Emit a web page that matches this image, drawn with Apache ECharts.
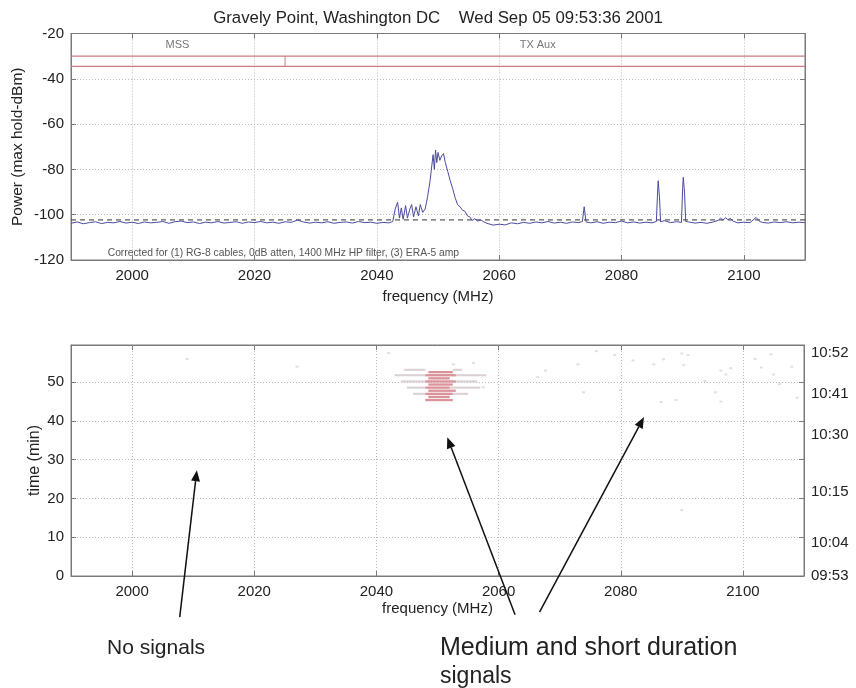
<!DOCTYPE html>
<html><head><meta charset="utf-8">
<script src="https://cdn.jsdelivr.net/npm/echarts@6/dist/echarts.min.js"></script>
<style>html,body{margin:0;padding:0;background:#fff}#c{width:856px;height:688px}</style>
</head><body><div id="c"></div>
<script>
// ---------- data ----------
const titleText = 'Gravely Point, Washington DC    Wed Sep 05 09:53:36 2001';
const specFreq = [1990,1991,1992,1993,1994,1995,1996,1997,1998,1999,2000,2001,2002,2003,2004,2005,2006,2007,2008,2009,
  2010,2011,2012,2013,2014,2015,2016,2017,2018,2019,2020,2021,2022,2023,2024,2025,2026,2027,2028,2029,
  2030,2031,2032,2033,2034,2035,2036,2037,2038,2039,2040,2041,2042,2042.6,2043.0,2043.4,2043.7,2044.0,2044.3,2044.7,
  2045.0,2045.4,2045.7,2046.0,2046.4,2046.8,2047.1,2047.5,2047.9,2048.3,2048.7,2049.0,2049.2,2049.4,2049.6,2049.8,
  2050.0,2050.3,2050.6,2050.9,2051.2,2051.6,2052.0,2052.4,2052.8,2053.2,2053.6,2054.0,2054.4,2054.8,2055.2,2055.6,
  2056.0,2056.5,2057.0,2057.5,2058,2059,2060,2061,2062,2063,2064,2065,2066,2067,2068,2069,2070,2071,2072,2073,
  2073.6,2073.9,2074.2,2075,2076,2077,2078,2079,2080,2081,2082,2083,2084,2085,2085.7,2085.9,2086.0,2086.2,2086.4,2087,
  2088,2089,2089.8,2090.0,2090.1,2090.3,2090.5,2091,2092,2093,2094,2095,2095.8,2096.2,2096.6,2097.0,2097.4,2097.8,
  2098.2,2099,2100,2101,2102,2102.5,2103,2104,2105,2106,2107,2108,2109,2110];
const specPower = [-103.8,-103.2,-104.0,-103.5,-103.1,-103.9,-103.4,-103.6,-103.0,-103.7,-103.3,-103.9,-103.2,-103.6,-103.4,-103.0,-103.8,-103.1,-102.8,-103.5,
  -103.2,-103.9,-103.3,-103.6,-103.0,-103.7,-103.4,-103.1,-103.8,-103.2,-103.5,-103.0,-103.6,-103.3,-103.8,-103.1,-103.4,-102.4,-103.2,-103.7,
  -103.3,-103.6,-103.1,-103.8,-103.4,-103.2,-103.7,-103.0,-103.5,-103.3,-103.8,-103.4,-103.6,-103.0,-97.5,-94.5,-101.5,-97.0,-102.0,-96.0,
  -101.5,-97.5,-95.5,-101.0,-96.5,-100.5,-95.5,-99.0,-97.5,-92.0,-85.0,-78.0,-73.5,-80.0,-71.5,-77.0,
  -72.5,-76.0,-74.0,-73.0,-77.0,-81.0,-85.0,-88.5,-92.5,-95.5,-96.5,-98.0,-98.5,-100.5,-101.0,-102.5,
  -101.8,-102.8,-102.3,-103.2,-103.8,-104.6,-104.2,-104.5,-103.6,-104.0,-103.4,-103.8,-103.2,-103.6,-103.0,-103.7,-103.3,-103.8,-103.2,-103.5,
  -103.0,-96.5,-103.2,-103.6,-103.1,-103.8,-103.3,-103.5,-102.8,-103.6,-103.2,-103.7,-103.3,-103.6,-103.0,-90.0,-85.0,-92.0,-103.2,-102.6,
  -103.5,-103.1,-103.4,-88.0,-83.5,-90.0,-103.0,-103.2,-103.7,-103.4,-103.8,-103.2,-102.5,-101.5,-102.4,-101.3,-102.2,-101.6,
  -102.8,-103.6,-103.3,-103.5,-101.2,-102.8,-103.4,-103.7,-103.2,-103.5,-103.1,-103.6,-103.3,-103.5];
const floorLevel = -102.3;
const redLevels = [-30, -34.5];
const redTickFreq = 2025;
const bandNames = ['MSS', 'TX Aux'];
const bandNameFreq = [2007.4, 2066.3];
const bandNameLevel = -25;
const noteText = 'Corrected for (1) RG-8 cables, 0dB atten, 1400 MHz HP filter, (3) ERA-5 amp';
const noteAt = [1996, -117];

// waterfall (lower panel): [freqStart, freqEnd, time(min)]
const redRows = [[2048.5,2052.5,52.6],[2048,2053,51.8],[2048.5,2052,51],[2048,2053,50.2],[2048.5,2052.5,49.4],
  [2048,2052,48.6],[2048.5,2053,47.8],[2048,2052.5,47],[2048.5,2052,46.2],[2048,2052.5,45.4]];
const greyRows = [[2043,2048,51.8],[2053,2058,51.8],[2044,2048,50.2],[2053,2056.5,50.2],[2045,2048,48.6],
  [2052,2057,48.6],[2046,2048,47],[2052.5,2055,47],[2044.5,2048,53.2],[2052.5,2054,53.2]];
const dots = [[2009,56],[2027,54],[2042,57.5],[2052.6,54.6],[2055.9,55],[2057.5,48.7],[2066.4,51.3],[2067.7,53],
  [2073,54.6],[2073.9,47.4],[2076,58],[2079,57],[2082,55.6],[2085.4,54.6],[2087,55.9],[2090,57.4],[2090.3,54.4],
  [2091,57],[2093.8,50.3],[2096.4,53],[2097.2,52],[2098,53.6],[2096.4,45],[2102,56],[2103,53.8],[2104.6,57.2],
  [2105,52],[2106,49.5],[2108,54],[2108.9,46],[2086.6,44.9],[2089,45.4],[2095.5,47.4],[2080,48],[2090,17]];
const clockLabels = ['09:53', '10:04', '10:15', '10:30', '10:41', '10:52'];
const clockPos = [0, 8.5, 21.8, 36.4, 47, 57.7];
const timeMax = 59.6;

// annotations: [tailFreq, tailTime, tipFreq, tipTime] in lower-panel coordinates
const arrows = [[2007.8,-10.6,2010.6,27.3],[2062.7,-10,2051.6,35.8],[2066.7,-9.3,2083.8,41]];

// ---------- chart ----------
const FONT = 'Liberation Sans, Arial, sans-serif';
const frame = '#7a7a7a';
const chart = echarts.init(document.getElementById('c'), null, {renderer: 'canvas'});

function xAx(gi, pos, labels, name, gap) {
  return {
    type: 'value', gridIndex: gi, position: pos, min: 1990, max: 2110, splitNumber: 6,
    axisLine: {show: true, onZero: false, lineStyle: {color: frame}},
    axisTick: {show: true, inside: true, length: 5, lineStyle: {color: frame}},
    axisLabel: {show: labels, showMinLabel: false, showMaxLabel: false, color: '#222', fontSize: 15, fontFamily: FONT, margin: 8,
      formatter: v => String(v)},
    splitLine: {show: pos === 'bottom', lineStyle: {color: '#b8b8b8', type: [1, 2]}},
    name: name, nameLocation: 'middle', nameGap: gap, nameMoveOverlap: false,
    nameTextStyle: {color: '#222', fontSize: 15, fontFamily: FONT}
  };
}

const option = {
  animation: false,
  backgroundColor: '#fff',
  title: {text: titleText, left: 433, top: 5, textAlign: 'center',
    textStyle: {fontSize: 16.8, fontWeight: 'normal', color: '#222', fontFamily: FONT}},
  grid: [
    {left: 71, top: 33.5, width: 734, height: 226.5, show: true, borderColor: frame, borderWidth: 1},
    {left: 71, top: 345, width: 733, height: 231, show: true, borderColor: frame, borderWidth: 1}
  ],
  xAxis: [
    xAx(0, 'bottom', true, 'frequency (MHz)', 29),
    xAx(0, 'top', false, '', 0),
    xAx(1, 'bottom', true, 'frequency (MHz)', 25),
    xAx(1, 'top', false, '', 0)
  ],
  yAxis: [
    {type: 'value', gridIndex: 0, position: 'left', min: -120, max: -20, interval: 20,
      axisLine: {show: true, lineStyle: {color: frame}},
      axisTick: {show: true, inside: true, length: 5, lineStyle: {color: frame}},
      axisLabel: {color: '#222', fontSize: 15, fontFamily: FONT, margin: 7},
      splitLine: {lineStyle: {color: '#b8b8b8', type: [1, 2]}},
      name: 'Power (max hold-dBm)', nameLocation: 'middle', nameGap: 45, nameRotate: 90, nameMoveOverlap: false,
      nameTextStyle: {color: '#222', fontSize: 15.5, fontFamily: FONT}},
    {type: 'value', gridIndex: 0, position: 'right', min: -120, max: -20, interval: 20,
      axisLine: {show: true, lineStyle: {color: frame}},
      axisTick: {show: true, inside: true, length: 5, lineStyle: {color: frame}},
      axisLabel: {show: false}, splitLine: {show: false}},
    {type: 'value', gridIndex: 1, position: 'left', min: 0, max: timeMax, interval: 10,
      axisLine: {show: true, lineStyle: {color: frame}},
      axisTick: {show: true, inside: true, length: 5, lineStyle: {color: frame}},
      axisLabel: {color: '#222', fontSize: 15, fontFamily: FONT, margin: 7, showMaxLabel: false},
      splitLine: {lineStyle: {color: '#b8b8b8', type: [1, 2]}},
      name: 'time (min)', nameLocation: 'middle', nameGap: 28, nameRotate: 90, nameMoveOverlap: false,
      nameTextStyle: {color: '#222', fontSize: 16, fontFamily: FONT}},
    {type: 'value', gridIndex: 1, position: 'right', min: 0, max: timeMax,
      axisLine: {show: true, lineStyle: {color: frame}},
      axisTick: {show: true, inside: true, length: 5, customValues: [10, 20, 30, 40, 50], lineStyle: {color: frame}},
      axisLabel: {show: true, customValues: clockPos, color: '#222', fontSize: 15, fontFamily: FONT, margin: 7,
        formatter: function (v) { const i = clockPos.indexOf(v); return i >= 0 ? clockLabels[i] : ''; }},
      splitLine: {show: false}}
  ],
  series: [
    {type: 'line', xAxisIndex: 0, yAxisIndex: 0, showSymbol: false, z: 3,
      lineStyle: {color: '#cc7a80', width: 1.2},
      data: [[1990, redLevels[0]], [2110, redLevels[0]]]},
    {type: 'line', xAxisIndex: 0, yAxisIndex: 0, showSymbol: false, z: 3,
      lineStyle: {color: '#cc7a80', width: 1.2},
      data: [[1990, redLevels[1]], [2110, redLevels[1]]]},
    {type: 'line', xAxisIndex: 0, yAxisIndex: 0, showSymbol: false, z: 3,
      lineStyle: {color: '#cc7a80', width: 1},
      data: [[redTickFreq, redLevels[0]], [redTickFreq, redLevels[1]]]},
    {type: 'line', xAxisIndex: 0, yAxisIndex: 0, showSymbol: false, z: 3,
      lineStyle: {color: '#333', width: 1, type: [5, 4]},
      data: [[1990, floorLevel], [2110, floorLevel]]},
    {type: 'line', xAxisIndex: 0, yAxisIndex: 0, showSymbol: false, z: 4,
      lineStyle: {color: '#4b4ba0', width: 1},
      data: specFreq.map((f, i) => [f, specPower[i]])},
    {type: 'custom', xAxisIndex: 2, yAxisIndex: 2, z: 3,
      encode: {x: [0, 1], y: 2},
      renderItem: function (params, api) {
        const a = api.coord([api.value(0), api.value(2)]);
        const b = api.coord([api.value(1), api.value(2)]);
        const h = api.size([0, 0.55])[1];
        return {type: 'rect', shape: {x: a[0], y: a[1] - h / 2, width: b[0] - a[0], height: h},
          style: {fill: '#dcd2d4'}};
      },
      data: greyRows},
    {type: 'custom', xAxisIndex: 2, yAxisIndex: 2, z: 4,
      encode: {x: [0, 1], y: 2},
      renderItem: function (params, api) {
        const a = api.coord([api.value(0), api.value(2)]);
        const b = api.coord([api.value(1), api.value(2)]);
        const h = api.size([0, 0.6])[1];
        return {type: 'rect', shape: {x: a[0], y: a[1] - h / 2, width: b[0] - a[0], height: h},
          style: {fill: '#da939b'}};
      },
      data: redRows},
    {type: 'scatter', xAxisIndex: 2, yAxisIndex: 2, symbol: 'rect', symbolSize: [3, 2],
      itemStyle: {color: '#d8d8d8'}, data: dots}
  ]
};
chart.setOption(option);

// annotations placed through the axes' own scales
const g = [];
bandNames.forEach((t, i) => {
  const p = chart.convertToPixel({xAxisIndex: 0, yAxisIndex: 0}, [bandNameFreq[i], bandNameLevel]);
  g.push({type: 'text', x: p[0], y: p[1], style: {text: t, fill: '#777', font: '11px ' + FONT, textAlign: 'center', textVerticalAlign: 'middle'}});
});
const np = chart.convertToPixel({xAxisIndex: 0, yAxisIndex: 0}, noteAt);
g.push({type: 'text', x: np[0], y: np[1], style: {text: noteText, fill: '#555', font: '10.3px ' + FONT, textAlign: 'left', textVerticalAlign: 'middle'}});
arrows.forEach(a => {
  const t0 = chart.convertToPixel({xAxisIndex: 2, yAxisIndex: 2}, [a[0], a[1]]);
  const t1 = chart.convertToPixel({xAxisIndex: 2, yAxisIndex: 2}, [a[2], a[3]]);
  const ang = Math.atan2(t1[1] - t0[1], t1[0] - t0[0]);
  const L = 11, W = 4.5;
  const bx = t1[0] - L * Math.cos(ang), by = t1[1] - L * Math.sin(ang);
  g.push({type: 'line', z: 50, shape: {x1: t0[0], y1: t0[1], x2: bx, y2: by}, style: {stroke: '#111', lineWidth: 1.5}});
  g.push({type: 'polygon', z: 50, shape: {points: [[t1[0], t1[1]],
    [bx + W * Math.sin(ang), by - W * Math.cos(ang)], [bx - W * Math.sin(ang), by + W * Math.cos(ang)]]},
    style: {fill: '#111'}});
});
g.push({type: 'text', x: 107, y: 648, z: 50, style: {text: 'No signals', fill: '#222', font: '21px ' + FONT, textVerticalAlign: 'middle'}});
g.push({type: 'text', x: 440, y: 648, z: 50, style: {text: 'Medium and short duration', fill: '#222', font: '25px ' + FONT, textVerticalAlign: 'middle'}});
g.push({type: 'text', x: 440, y: 677, z: 50, style: {text: 'signals', fill: '#222', font: '23px ' + FONT, textVerticalAlign: 'middle'}});
chart.setOption({graphic: g});
</script></body></html>
